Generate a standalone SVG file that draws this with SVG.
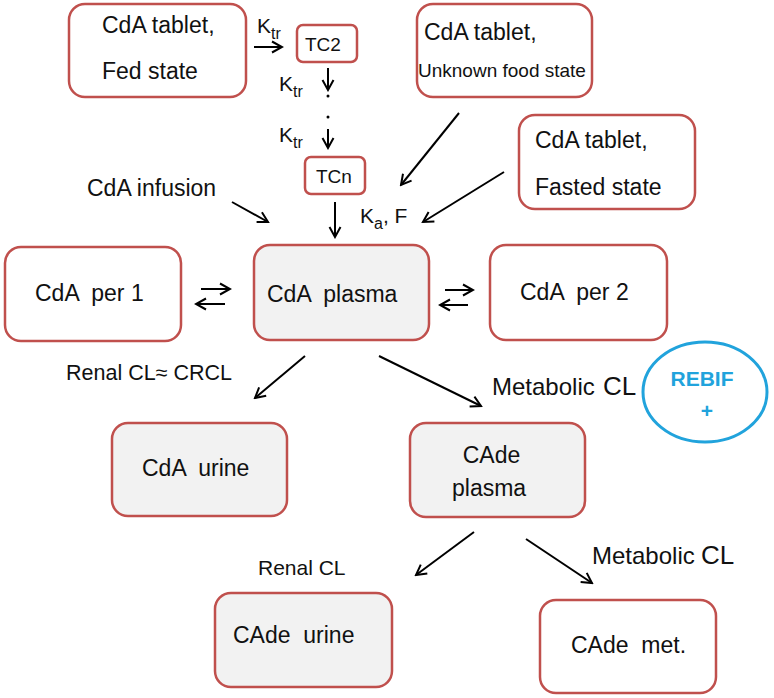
<svg xmlns="http://www.w3.org/2000/svg" width="774" height="698" viewBox="0 0 774 698">
<style>
text{font-family:"Liberation Sans",Arial,sans-serif;fill:#111;white-space:pre}
.box{fill:#fff;stroke:#c0504d;stroke-width:2.5}
.gray{fill:#f2f2f2}
.lbl{font-size:23px}
.sm{font-size:19px}
.k{font-size:21px}
.sub{font-size:16px}
.edge{stroke:#000;stroke-width:2;fill:none;marker-end:url(#ah)}
.rebif{font-family:"Liberation Sans",Arial,sans-serif;font-weight:bold;fill:#21a3dc}
</style>
<defs>
<marker id="ah" viewBox="-2 -8 14 16" refX="10" refY="0" markerWidth="14" markerHeight="16" markerUnits="userSpaceOnUse" orient="auto">
<path d="M0,-5.5 L10,0 L0,5.5" fill="none" stroke="#000" stroke-width="2"/>
</marker>
</defs>
<rect width="774" height="698" fill="#fff"/>

<g id="fed">
<rect class="box" x="69" y="4" width="177" height="93" rx="16"/>
<text class="lbl" x="102" y="33">CdA tablet,</text>
<text class="lbl" x="102" y="79">Fed state</text>
</g>
<g id="tc2">
<rect class="box" x="297" y="25" width="60" height="37" rx="6"/>
<text class="sm" x="305" y="51">TC2</text>
</g>
<g id="tcn">
<rect class="box" x="305" y="157" width="60" height="37" rx="6"/>
<text class="sm" x="316" y="183">TCn</text>
</g>
<g id="unknown">
<rect class="box" x="417" y="4" width="175" height="93" rx="16"/>
<text class="lbl" x="424" y="40">CdA tablet,</text>
<text x="418" y="77" font-size="19">Unknown food state</text>
</g>
<g id="fasted">
<rect class="box" x="519" y="115" width="176" height="94" rx="16"/>
<text class="lbl" x="535" y="148">CdA tablet,</text>
<text class="lbl" x="535" y="195">Fasted state</text>
</g>
<g id="per1">
<rect class="box" x="5" y="247" width="176" height="94" rx="16"/>
<text class="lbl" x="35" y="301">CdA  per 1</text>
</g>
<g id="plasma">
<rect class="box gray" x="254" y="245" width="175" height="95" rx="16"/>
<text class="lbl" x="267" y="302">CdA  plasma</text>
</g>
<g id="per2">
<rect class="box" x="490" y="245" width="177" height="95" rx="16"/>
<text class="lbl" x="520" y="300">CdA  per 2</text>
</g>
<g id="cda-urine">
<rect class="box gray" x="112" y="423" width="175" height="93" rx="16"/>
<text class="lbl" x="142" y="476">CdA  urine</text>
</g>
<g id="cade-plasma">
<rect class="box gray" x="410" y="423" width="175" height="94" rx="16"/>
<text class="lbl" x="491.5" y="463" text-anchor="middle">CAde</text>
<text class="lbl" x="452" y="496">plasma</text>
</g>
<g id="cade-urine">
<rect class="box gray" x="215" y="593" width="177" height="94" rx="16"/>
<text class="lbl" x="233" y="643">CAde  urine</text>
</g>
<g id="cade-met">
<rect class="box" x="540" y="600" width="176" height="93" rx="16"/>
<text class="lbl" x="571" y="653">CAde  met.</text>
</g>
<g id="rebif">
<ellipse cx="705" cy="392" rx="62" ry="50" fill="none" stroke="#21a3dc" stroke-width="3"/>
<text class="rebif" x="702" y="386" font-size="21" text-anchor="middle">REBIF</text>
<text class="rebif" x="707" y="418" font-size="21" text-anchor="middle">+</text>
</g>

<g id="connectors">
<line class="edge" x1="254" y1="47" x2="282" y2="47"/>
<line class="edge" x1="328" y1="68" x2="328" y2="90"/>
<circle cx="328" cy="96" r="1.5" fill="#000"/>
<circle cx="328" cy="117" r="1.5" fill="#000"/>
<line class="edge" x1="328" y1="129" x2="328" y2="148"/>
<line class="edge" x1="335" y1="202" x2="335" y2="237"/>
<line class="edge" x1="232" y1="202" x2="268" y2="222"/>
<line class="edge" x1="459" y1="113" x2="401" y2="185"/>
<line class="edge" x1="504" y1="172" x2="423" y2="222"/>
<line class="edge" x1="201" y1="289" x2="230" y2="289"/>
<line class="edge" x1="225" y1="304" x2="196" y2="304"/>
<line class="edge" x1="445" y1="290" x2="473" y2="290"/>
<line class="edge" x1="468" y1="305" x2="440" y2="305"/>
<line class="edge" x1="305" y1="356" x2="255" y2="398"/>
<line class="edge" x1="379" y1="356" x2="481" y2="406"/>
<line class="edge" x1="474" y1="532" x2="416" y2="575"/>
<line class="edge" x1="526" y1="539" x2="592" y2="583"/>

<text class="k" x="257" y="33">K<tspan class="sub" dy="6">tr</tspan></text>
<text class="k" x="279" y="91">K<tspan class="sub" dy="6">tr</tspan></text>
<text class="k" x="279" y="142">K<tspan class="sub" dy="6">tr</tspan></text>
<text class="k" x="360" y="223">K<tspan class="sub" dy="6">a</tspan><tspan dy="-6">, F</tspan></text>
<text class="lbl" x="87" y="196">CdA infusion</text>
<text x="66" y="380" font-size="21.5">Renal CL≈ CRCL</text>
<text x="492" y="395" font-size="24">Metabolic</text>
<text x="603" y="395" font-size="26">CL</text>
<text x="258" y="575" font-size="21">Renal CL</text>
<text x="592" y="564" font-size="24">Metabolic</text>
<text x="701" y="564" font-size="26">CL</text>
</g>
</svg>
